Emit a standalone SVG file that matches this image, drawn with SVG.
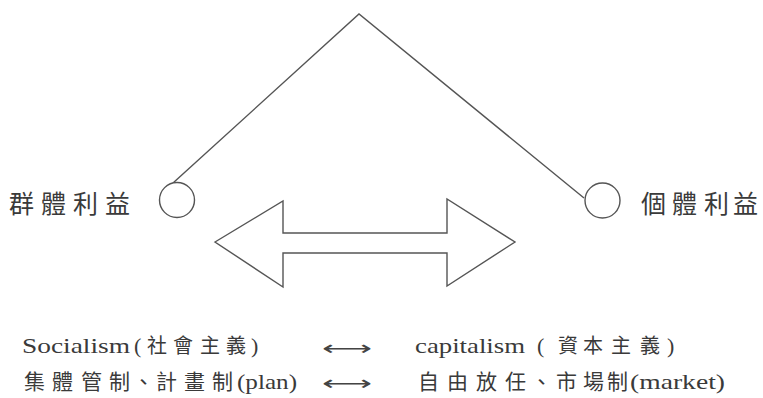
<svg xmlns="http://www.w3.org/2000/svg" width="763" height="398" viewBox="0 0 763 398">
<style>
.ln{fill:none;stroke:#555;stroke-width:1.4}
.nd{fill:#fff;stroke:#555;stroke-width:1.4}
.lbl{font-family:"Noto Sans CJK TC",serif;font-size:25px;fill:#3a3a3a}
.lat{font-family:'Liberation Serif',serif;font-size:22px;fill:#3a3a3a}
.cjk1{font-family:"Noto Sans CJK TC",serif;font-size:20px;fill:#3a3a3a}
.cjk2{font-family:"Noto Sans CJK TC",serif;font-size:21px;fill:#3a3a3a}
.arr{font-family:"DejaVu Sans",sans-serif;font-size:20px;fill:#444}
</style>
<rect width="763" height="398" fill="#fff"/>
<g id="connectors">
<polyline class="ln" points="173,183 359,14 584,198"/>
</g>
<g id="node-collective">
<circle class="nd" cx="177" cy="200" r="17.5"/>
<text class="lbl" x="9 41 73 105" y="213">群體利益</text>
</g>
<g id="node-individual">
<circle class="nd" cx="602.5" cy="200.5" r="17.5"/>
<text class="lbl" x="641 672 704 733" y="213">個體利益</text>
</g>
<g id="double-arrow">
<polygon class="ln" points="215,242 283,201 283,233 447,233 447,199 515,242 447,286 447,253 283,253 283,287"/>
</g>
<g id="legend" font-family="Liberation Serif, serif">
<text class="lat" x="22" y="353" textLength="108" lengthAdjust="spacingAndGlyphs">Socialism</text>
<text class="lat" x="134" y="353">(</text>
<text class="cjk1" x="147 173 200 226" y="353">社會主義</text>
<text class="lat" x="251" y="353">)</text>
<text class="arr" x="322" y="355" textLength="50" lengthAdjust="spacingAndGlyphs">⟷</text>
<text class="lat" x="415" y="353" textLength="110" lengthAdjust="spacingAndGlyphs">capitalism</text>
<text class="lat" x="537" y="353">(</text>
<text class="cjk1" x="558 583 611 640" y="353">資本主義</text>
<text class="lat" x="667" y="353">)</text>
<text class="cjk2" x="24 52 81 109 133 156 184 212" y="389">集體管制、計畫制</text>
<text class="lat" x="237" y="389" textLength="60" lengthAdjust="spacingAndGlyphs">(plan)</text>
<text class="arr" x="322" y="390" textLength="50" lengthAdjust="spacingAndGlyphs">⟷</text>
<text class="cjk2" x="418 447 476 505 531 556 583 607" y="389">自由放任、市場制</text>
<text class="lat" x="630" y="389" textLength="95" lengthAdjust="spacingAndGlyphs">(market)</text>
</g>
</svg>
